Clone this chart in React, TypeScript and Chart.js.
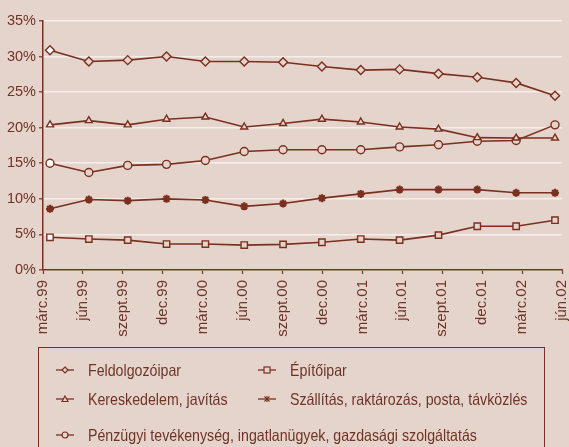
import React, { useEffect, useRef } from "react";
import { Chart, registerables } from "chart.js";

Chart.register(...registerables);

const categories = [
  "márc.99", "jún.99", "szept.99", "dec.99", "márc.00", "jún.00", "szept.00",
  "dec.00", "márc.01", "jún.01", "szept.01", "dec.01", "márc.02", "jún.02",
];

const feldolgozoipar = [30.9, 29.3, 29.5, 30.0, 29.3, 29.3, 29.2, 28.6, 28.1, 28.2, 27.6, 27.1, 26.3, 24.5];
const epitoipar = [4.6, 4.35, 4.2, 3.65, 3.65, 3.5, 3.6, 3.9, 4.35, 4.2, 4.9, 6.15, 6.15, 7.0];
const kereskedelem = [20.4, 21.0, 20.4, 21.2, 21.5, 20.1, 20.6, 21.2, 20.8, 20.1, 19.8, 18.6, 18.55, 18.55];
const szallitas = [8.6, 9.9, 9.75, 10.0, 9.85, 8.95, 9.35, 10.1, 10.7, 11.3, 11.3, 11.3, 10.85, 10.85];
const penzugyi = [15.0, 13.7, 14.7, 14.85, 15.4, 16.65, 16.9, 16.9, 16.9, 17.3, 17.6, 18.1, 18.2, 20.4];

const yTicks = [0, 5, 10, 15, 20, 25, 30, 35];

const BG = "#e5d4cc";
const LINE = "#7a2f1f";
const TEXT = "#6f3426";
const FONT = "'Liberation Sans', Arial, sans-serif";

type Series = { label: string; data: number[]; style: string; radius: number };

const series: Series[] = [
  { label: "Feldolgozóipar", data: feldolgozoipar, style: "rectRot", radius: 4.5 },
  { label: "Építőipar", data: epitoipar, style: "rect", radius: 4.5 },
  { label: "Kereskedelem, javítás", data: kereskedelem, style: "triangle", radius: 4 },
  { label: "Szállítás, raktározás, posta, távközlés", data: szallitas, style: "star", radius: 4 },
  { label: "Pénzügyi tevékenység, ingatlanügyek, gazdasági szolgáltatás", data: penzugyi, style: "circle", radius: 4 },
];

function Icon({ style }: { style: string }) {
  const c = 9, m = 5;
  let shape: React.ReactNode = null;
  if (style === "rectRot") shape = <polygon points={`${c},${m - 3} ${c + 3},${m} ${c},${m + 3} ${c - 3},${m}`} fill={BG} stroke={LINE} strokeWidth={1.2} />;
  if (style === "rect") shape = <rect x={c - 3} y={m - 3} width={6} height={6} fill={BG} stroke={LINE} strokeWidth={1.2} />;
  if (style === "triangle") shape = <polygon points={`${c},${m - 3} ${c + 3},${m + 2.5} ${c - 3},${m + 2.5}`} fill={BG} stroke={LINE} strokeWidth={1.2} />;
  if (style === "circle") shape = <circle cx={c} cy={m} r={3} fill={BG} stroke={LINE} strokeWidth={1.2} />;
  if (style === "star") shape = (
    <g stroke={LINE} strokeWidth={1.1}>
      <line x1={c - 2.5} y1={m - 2.5} x2={c + 2.5} y2={m + 2.5} />
      <line x1={c - 2.5} y1={m + 2.5} x2={c + 2.5} y2={m - 2.5} />
      <line x1={c} y1={m - 3} x2={c} y2={m + 3} />
    </g>
  );
  return (
    <svg width={18} height={10} style={{ position: "absolute", left: 0, top: -5 }}>
      <line x1={0} y1={m} x2={18} y2={m} stroke={LINE} strokeWidth={1.3} />
      {shape}
    </svg>
  );
}

function LegendItem({ s, left, top }: { s: Series; left: number; top: number }) {
  return (
    <div style={{ position: "absolute", left, top, height: 0 }}>
      <Icon style={s.style} />
      <span
        style={{
          position: "absolute", left: 32, top: -10, whiteSpace: "nowrap", fontFamily: FONT,
          fontSize: 16.5, lineHeight: "20px", color: TEXT, transform: "scaleX(0.86)", transformOrigin: "left center",
        }}
      >
        {s.label}
      </span>
    </div>
  );
}

export default function App() {
  const ref = useRef<HTMLCanvasElement>(null);

  useEffect(() => {
    document.body.style.margin = "0";
    document.body.style.background = BG;
    const ctx = ref.current!;
    const chart = new Chart(ctx, {
      type: "line",
      data: {
        datasets: series.map((s) => ({
          label: s.label,
          data: s.data.map((v, i) => ({ x: i, y: v })),
          borderColor: LINE,
          borderWidth: 1.6,
          pointStyle: s.style as any,
          pointRadius: s.radius,
          pointBorderColor: LINE,
          pointBorderWidth: s.style === "star" ? 2.2 : 1.4,
          pointBackgroundColor: s.data.map((_, i) => (i === 0 ? "#ffffff" : BG)),
          tension: 0,
          fill: false,
          xAxisID: "x",
          yAxisID: "y",
        })),
      },
      options: {
        animation: false,
        responsive: false,
        maintainAspectRatio: false,
        layout: { padding: { top: 21, right: 7, left: 0, bottom: 0 } },
        plugins: { legend: { display: false }, tooltip: { enabled: false } },
        scales: {
          x: {
            type: "linear",
            display: false,
            min: -0.18,
            max: 13.18,
          },
          x2: {
            type: "category",
            labels: categories,
            position: "bottom",
            offset: false,
            grid: { drawOnChartArea: false, tickLength: 4, tickColor: LINE, tickWidth: 1.2 },
            border: { color: LINE, width: 1.5 },
            ticks: {
              maxRotation: 90,
              minRotation: 90,
              autoSkip: false,
              padding: 6,
              color: TEXT,
              font: { family: FONT, size: 15 },
            },
            afterFit: (s: any) => { s.height = 177; s.paddingLeft = 0; s.paddingRight = 0; },
          },
          y: {
            min: 0,
            max: 35,
            afterBuildTicks: (s: any) => { s.ticks = yTicks.map((v) => ({ value: v })); },
            grid: { color: "#f6eeea", lineWidth: 1.6, tickLength: 4, tickColor: LINE, tickWidth: 1.2 },
            border: { color: LINE, width: 1.5 },
            ticks: {
              padding: 3,
              color: TEXT,
              font: { family: FONT, size: 14.5 },
              callback: (v: any) => `${v}%`,
            },
            afterFit: (s: any) => { s.width = 43; s.paddingTop = 0; s.paddingBottom = 0; },
          },
        },
      },
    });
    return () => chart.destroy();
  }, []);

  return (
    <div style={{ position: "fixed", left: 0, top: 0, width: 569, height: 447, background: BG, overflow: "hidden" }}>
      <canvas ref={ref} width={569} height={447} style={{ position: "absolute", left: 0, top: 0 }} />
      <div style={{ position: "absolute", left: 38, top: 347, width: 507, height: 120, border: `1.5px solid ${LINE}`, boxSizing: "border-box" }} />
      <LegendItem s={series[0]} left={56} top={370} />
      <LegendItem s={series[1]} left={258} top={370} />
      <LegendItem s={series[2]} left={56} top={399} />
      <LegendItem s={series[3]} left={258} top={399} />
      <LegendItem s={series[4]} left={56} top={435} />
    </div>
  );
}
